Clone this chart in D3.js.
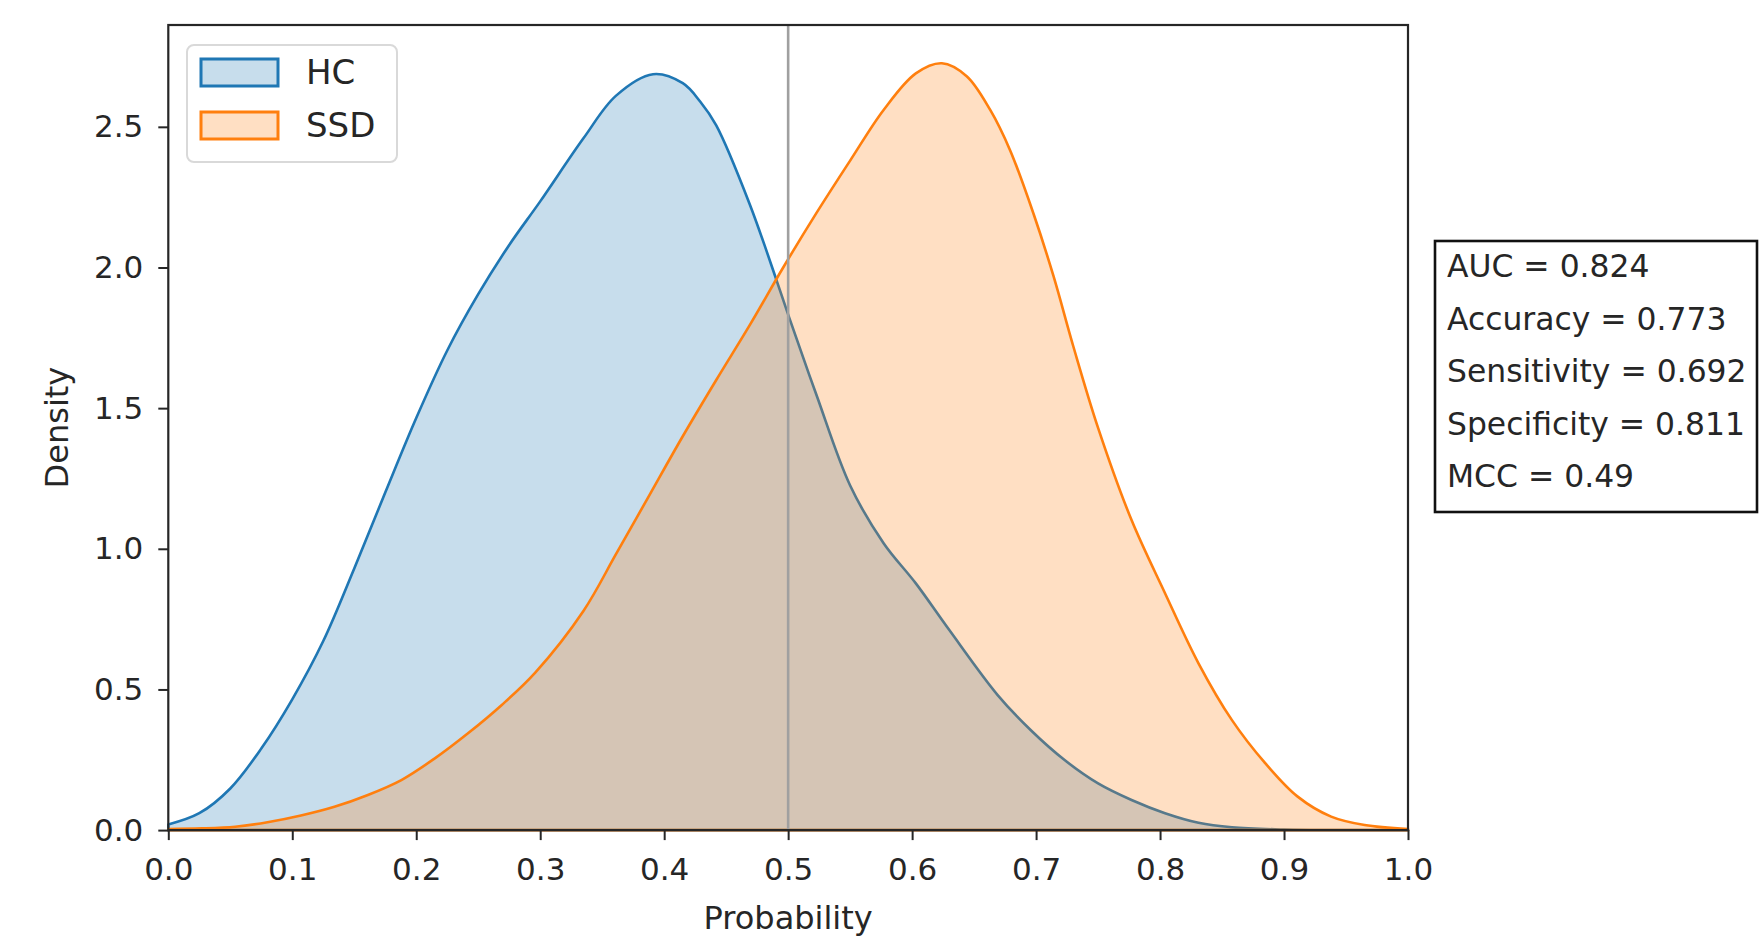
<!DOCTYPE html>
<html>
<head>
<meta charset="utf-8">
<script src="https://cdn.jsdelivr.net/npm/d3@7"></script>
<style>
  html, body { margin: 0; padding: 0; background: #ffffff; }
  svg { display: block; font-family: "DejaVu Sans", sans-serif; }
</style>
</head>
<body>
<svg id="chart" width="1759" height="948"></svg>
<script>
// ---- data ----
const seriesNames = ["HC", "SSD"];
const seriesColors = ["#1f77b4", "#ff7f0e"];

const hcX = [0.000, 0.025, 0.050, 0.075, 0.100, 0.125, 0.150, 0.175, 0.200, 0.225, 0.250, 0.275, 0.300, 0.335, 0.361, 0.391, 0.415, 0.429, 0.442, 0.469, 0.491, 0.501, 0.523, 0.550, 0.577, 0.603, 0.630, 0.669, 0.696, 0.723, 0.750, 0.777, 0.804, 0.831, 0.858, 0.900, 0.950, 1.000];
const hcY = [0.020, 0.060, 0.148, 0.290, 0.465, 0.672, 0.930, 1.200, 1.465, 1.705, 1.905, 2.080, 2.235, 2.460, 2.610, 2.687, 2.655, 2.590, 2.505, 2.225, 1.950, 1.820, 1.545, 1.225, 1.020, 0.877, 0.711, 0.480, 0.354, 0.249, 0.166, 0.107, 0.060, 0.026, 0.010, 0.002, 0.000, 0.000];

const ssdX = [0.000, 0.027, 0.054, 0.080, 0.107, 0.134, 0.161, 0.188, 0.215, 0.242, 0.269, 0.296, 0.335, 0.361, 0.388, 0.415, 0.442, 0.469, 0.496, 0.523, 0.550, 0.577, 0.603, 0.624, 0.644, 0.663, 0.679, 0.698, 0.714, 0.730, 0.750, 0.777, 0.804, 0.831, 0.858, 0.885, 0.911, 0.938, 0.965, 1.000];
const ssdY = [0.004, 0.006, 0.012, 0.028, 0.052, 0.083, 0.125, 0.178, 0.255, 0.345, 0.445, 0.560, 0.780, 0.980, 1.190, 1.400, 1.600, 1.795, 2.000, 2.195, 2.380, 2.560, 2.690, 2.726, 2.680, 2.560, 2.417, 2.190, 1.970, 1.720, 1.430, 1.102, 0.842, 0.593, 0.391, 0.237, 0.119, 0.048, 0.018, 0.004];

const xTicks = [0.0, 0.1, 0.2, 0.3, 0.4, 0.5, 0.6, 0.7, 0.8, 0.9, 1.0];
const yTicks = [0.0, 0.5, 1.0, 1.5, 2.0, 2.5];
const threshold = 0.5;
const xLabel = "Probability";
const yLabel = "Density";
const statLines = ["AUC = 0.824", "Accuracy = 0.773", "Sensitivity = 0.692", "Specificity = 0.811", "MCC = 0.49"];

// ---- layout ----
const svg = d3.select("#chart");
const L = 168.3, R = 1408, T = 25, B = 830.1;
const x = d3.scaleLinear().domain([0, 1]).range([L, R]);
const y = d3.scaleLinear().domain([0, 2.862]).range([B, T]);
const ink = "#262626";

const series = [
  { name: seriesNames[0], color: seriesColors[0], pts: hcX.map((v, i) => [v, hcY[i]]) },
  { name: seriesNames[1], color: seriesColors[1], pts: ssdX.map((v, i) => [v, ssdY[i]]) }
];

const area = d3.area()
  .x(d => x(d[0]))
  .y0(y(0))
  .y1(d => y(d[1]))
  .curve(d3.curveCatmullRom.alpha(0.5));

const plot = svg.append("g");
series.forEach(s => {
  plot.append("path")
    .attr("d", area(s.pts) + "Z")
    .attr("fill", s.color)
    .attr("fill-opacity", 0.25)
    .attr("stroke", s.color)
    .attr("stroke-width", 2.6)
    .attr("stroke-linejoin", "round");
});

// threshold line
plot.append("line")
  .attr("x1", x(threshold)).attr("x2", x(threshold))
  .attr("y1", y.range()[1]).attr("y2", y.range()[0])
  .attr("stroke", "#a0a0a0")
  .attr("stroke-width", 2.6);

// axes
const fmt = d3.format(".1f");
const xAxis = svg.append("g")
  .attr("transform", `translate(0,${B})`)
  .call(d3.axisBottom(x).tickValues(xTicks).tickFormat(fmt).tickSize(10).tickSizeOuter(0).tickPadding(18));
const yAxis = svg.append("g")
  .attr("transform", `translate(${L},0)`)
  .call(d3.axisLeft(y).tickValues(yTicks).tickFormat(fmt).tickSize(10).tickSizeOuter(0).tickPadding(15));
[xAxis, yAxis].forEach(g => {
  g.select(".domain").remove();
  g.selectAll(".tick line").attr("stroke", ink).attr("stroke-width", 2);
  g.selectAll(".tick text").attr("fill", ink).style("font-size", "31px").style("font-family", "DejaVu Sans");
});

// frame
svg.append("rect")
  .attr("x", L).attr("y", T)
  .attr("width", R - L).attr("height", B - T)
  .attr("fill", "none")
  .attr("stroke", ink)
  .attr("stroke-width", 2.2);

// axis labels
svg.append("text")
  .attr("x", (L + R) / 2).attr("y", 929)
  .attr("text-anchor", "middle")
  .attr("fill", ink)
  .style("font-size", "32px")
  .text(xLabel);
svg.append("text")
  .attr("transform", `translate(68,${(T + B) / 2}) rotate(-90)`)
  .attr("text-anchor", "middle")
  .attr("fill", ink)
  .style("font-size", "32px")
  .text(yLabel);

// legend
const leg = svg.append("g");
leg.append("rect")
  .attr("x", 187).attr("y", 45).attr("width", 210).attr("height", 117)
  .attr("rx", 7)
  .attr("fill", "#ffffff").attr("fill-opacity", 0.8)
  .attr("stroke", "#d9d9d9").attr("stroke-width", 2);
series.forEach((s, i) => {
  const yy = 59 + i * 53;
  leg.append("rect")
    .attr("x", 201).attr("y", yy).attr("width", 77).attr("height", 27)
    .attr("fill", s.color).attr("fill-opacity", 0.25)
    .attr("stroke", s.color).attr("stroke-width", 3);
  leg.append("text")
    .attr("x", 306).attr("y", yy + 25)
    .attr("fill", ink)
    .style("font-size", "34px")
    .text(s.name);
});

// stats box
const box = svg.append("g");
box.append("rect")
  .attr("x", 1435).attr("y", 241).attr("width", 322).attr("height", 271)
  .attr("fill", "#ffffff")
  .attr("stroke", "#111111").attr("stroke-width", 2.6);
statLines.forEach((t, i) => {
  box.append("text")
    .attr("x", 1447).attr("y", 277 + i * 52.5)
    .attr("fill", ink)
    .style("font-size", "31.4px")
    .text(t);
});
</script>
</body>
</html>
